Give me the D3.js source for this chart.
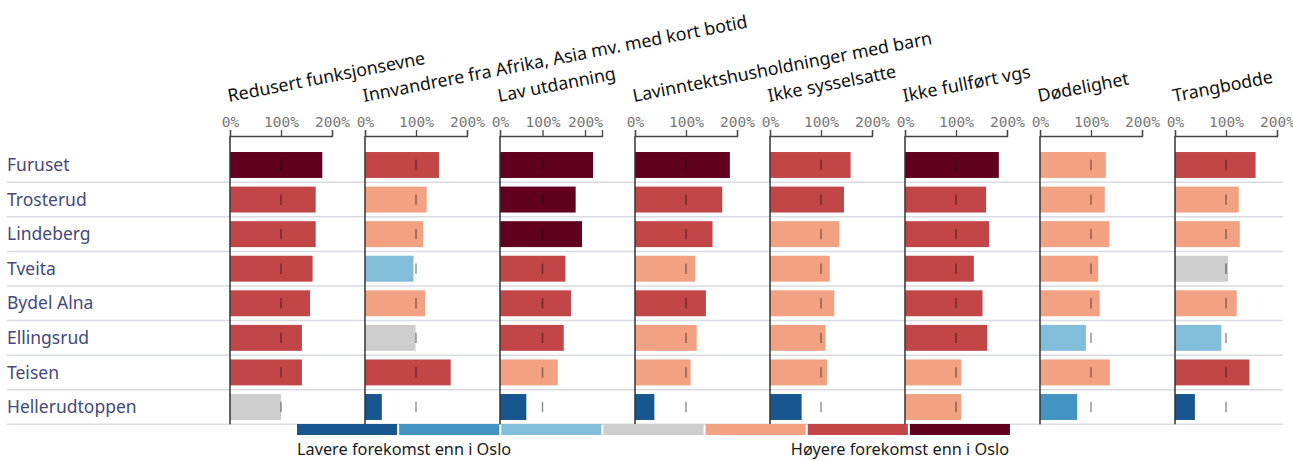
<!DOCTYPE html>
<html>
<head>
<meta charset="utf-8">
<script src="https://cdn.jsdelivr.net/npm/d3@7"></script>
<style>
  body { margin: 0; background: #fff; }
  svg { display: block; }
</style>
</head>
<body>
<div id="chart"></div>
<script>
// neighbourhoods (rows) and indicators (panels)
const places = ['Furuset', 'Trosterud', 'Lindeberg', 'Tveita', 'Bydel Alna', 'Ellingsrud', 'Teisen', 'Hellerudtoppen'];
const indicators = ['Redusert funksjonsevne', 'Innvandrere fra Afrika, Asia mv. med kort botid', 'Lav utdanning',
  'Lavinntektshusholdninger med barn', 'Ikke sysselsatte', 'Ikke fullført vgs', 'Dødelighet', 'Trangbodde'];

// share relative to Oslo (Oslo = 100%)
const funksjonsevne = [181, 168, 168, 162, 157, 141, 141, 100];
const innvandrere   = [145, 121, 114, 95, 118, 99, 168, 33];
const utdanning     = [219, 178, 193, 154, 167, 150, 136, 62];
const lavinntekt    = [186, 171, 152, 118, 139, 121, 109, 38];
const sysselsatte   = [158, 145, 136, 117, 126, 109, 112, 62];
const vgs           = [184, 159, 165, 135, 152, 161, 110, 110];
const dodelighet    = [129, 127, 136, 114, 117, 90, 137, 73];
const trangbodde    = [158, 125, 127, 104, 121, 91, 146, 39];

// colour class 0..6 (much lower .. much higher than Oslo)
const funksjonsevneCls = [6, 5, 5, 5, 5, 5, 5, 3];
const innvandrereCls   = [5, 4, 4, 2, 4, 3, 5, 0];
const utdanningCls     = [6, 6, 6, 5, 5, 5, 4, 0];
const lavinntektCls    = [6, 5, 5, 4, 5, 4, 4, 0];
const sysselsatteCls   = [5, 5, 4, 4, 4, 4, 4, 0];
const vgsCls           = [6, 5, 5, 5, 5, 5, 4, 4];
const dodelighetCls    = [4, 4, 4, 4, 4, 2, 4, 1];
const trangbodeCls     = [5, 4, 4, 3, 4, 2, 5, 0];

const axisMax = [200, 200, 240, 200, 200, 200, 200, 200];
const tickValues = [0, 100, 200];
const legendLabels = ['Lavere forekomst enn i Oslo', 'Høyere forekomst enn i Oslo'];

const palette = ['#17568f', '#4393c3', '#82bdd9', '#cdcdcd', '#f3a183', '#c24548', '#62001f'];

const allValues = [funksjonsevne, innvandrere, utdanning, lavinntekt, sysselsatte, vgs, dodelighet, trangbodde];
const allCls = [funksjonsevneCls, innvandrereCls, utdanningCls, lavinntektCls, sysselsatteCls, vgsCls, dodelighetCls, trangbodeCls];

const W = 1293, H = 461;
const svg = d3.select('#chart').append('svg').attr('width', W).attr('height', H);

const axisY = 136;
const y = d3.scaleBand().domain(places).range([147.7, 424.3]);
const panelX = d3.scaleLinear().domain([0, 7]).range([230, 1175]);
const panelW = 102;

// row separators
svg.append('g').selectAll('line').data(places).join('line')
  .attr('x1', 7).attr('x2', 1283)
  .attr('y1', d => y(d) + y.bandwidth()).attr('y2', d => y(d) + y.bandwidth())
  .attr('stroke', '#d9dbe4').attr('stroke-width', 1.5);

// row labels
svg.append('g').selectAll('text').data(places).join('text')
  .attr('x', 7).attr('y', d => y(d) + y.bandwidth() / 2)
  .attr('dy', '0.35em')
  .attr('font-family', 'Noto Sans, sans-serif').attr('font-size', 17.5)
  .attr('fill', '#45497a')
  .text(d => d);

indicators.forEach((name, i) => {
  const x0 = panelX(i);
  const x = d3.scaleLinear().domain([0, axisMax[i]]).range([0, panelW]);
  const g = svg.append('g').attr('transform', `translate(${x0},0)`);

  const rows = places.map((p, j) => ({place: p, value: allValues[i][j], cls: allCls[i][j]}));

  g.selectAll('rect').data(rows).join('rect')
    .attr('x', 0)
    .attr('y', d => y(d.place) + y.bandwidth() * 0.125)
    .attr('width', d => x(d.value))
    .attr('height', y.bandwidth() * 0.75)
    .attr('fill', d => palette[d.cls]);

  // Oslo reference mark at 100%
  g.selectAll('line.ref').data(rows).join('line')
    .attr('class', 'ref')
    .attr('x1', x(100)).attr('x2', x(100))
    .attr('y1', d => y(d.place) + y.bandwidth() * 0.35)
    .attr('y2', d => y(d.place) + y.bandwidth() * 0.65)
    .attr('stroke', 'rgba(0,0,0,0.42)').attr('stroke-width', 1.5);

  // panel baseline
  g.append('line')
    .attr('x1', 0).attr('x2', 0)
    .attr('y1', axisY).attr('y2', y.range()[1])
    .attr('stroke', '#333').attr('stroke-width', 1.5);

  const ax = g.append('g').attr('transform', `translate(0,${axisY})`)
    .call(d3.axisTop(x).tickValues(tickValues).tickSize(6).tickSizeOuter(6).tickFormat(d => d + '%'));
  ax.select('.domain').attr('stroke', '#444').attr('stroke-width', 1.3);
  ax.selectAll('.tick line').attr('stroke', '#444').attr('stroke-width', 1.3);
  ax.selectAll('.tick text')
    .attr('font-family', 'DejaVu Sans Mono, monospace').attr('font-size', 14.5)
    .attr('fill', '#777');

  g.append('text')
    .attr('transform', `translate(-1,102) rotate(-11)`)
    .attr('font-family', 'Noto Sans, sans-serif').attr('font-size', 17.8)
    .attr('fill', '#111')
    .text(name);
});

// legend
const lx = d3.scaleBand().domain(d3.range(7)).range([297, 1010]).paddingInner(0.02);
svg.append('g').selectAll('rect').data(palette).join('rect')
  .attr('x', (d, k) => lx(k)).attr('y', 424)
  .attr('width', lx.bandwidth()).attr('height', 11)
  .attr('fill', d => d);

svg.append('text').attr('x', 297).attr('y', 455)
  .attr('font-family', 'Noto Sans, sans-serif').attr('font-size', 16.3).attr('fill', '#1a1a1a')
  .text(legendLabels[0]);
svg.append('text').attr('x', 1009).attr('y', 455).attr('text-anchor', 'end')
  .attr('font-family', 'Noto Sans, sans-serif').attr('font-size', 16.3).attr('fill', '#1a1a1a')
  .text(legendLabels[1]);
</script>
</body>
</html>
